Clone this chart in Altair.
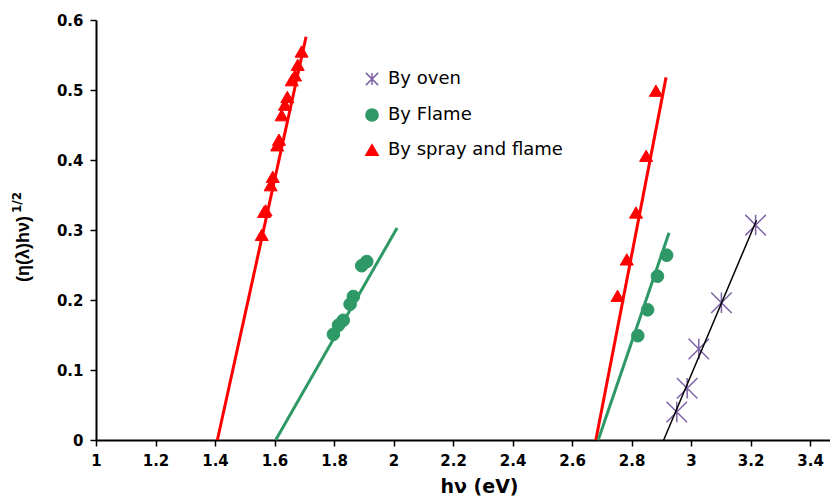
import altair as alt
import pandas as pd

# Series definitions
series_names = ["By oven", "By Flame", "By spray and flame"]
series_colors = ["#7F63A6", "#2E9966", "#FF0000"]
asterisk = "M-1,-1L1,1M-1,1L1,-1M0,-1L0,1"
series_shapes = [asterisk, "circle", "triangle-up"]

# Measured points
oven_x = [2.952, 2.987, 3.026, 3.102, 3.217]
oven_y = [0.040, 0.074, 0.130, 0.196, 0.307]

flame_x = [1.798, 1.815, 1.831, 1.854, 1.865, 1.893, 1.910,
           2.821, 2.854, 2.887, 2.918]
flame_y = [0.151, 0.164, 0.171, 0.194, 0.205, 0.249, 0.255,
           0.149, 0.186, 0.234, 0.264]

spray_x = [1.557, 1.565, 1.570, 1.587, 1.594, 1.609, 1.615, 1.624, 1.635,
           1.643, 1.658, 1.669, 1.678, 1.691,
           2.753, 2.784, 2.815, 2.849, 2.882]
spray_y = [0.293, 0.326, 0.328, 0.364, 0.376, 0.421, 0.429, 0.464, 0.479,
           0.490, 0.514, 0.521, 0.536, 0.555,
           0.206, 0.258, 0.325, 0.406, 0.499]

# Linear fits (start and end of each fitted segment)
fit_ids = ["spray_low", "spray_high", "flame_low", "flame_high", "oven"]
fit_colors = ["#FF0000", "#FF0000", "#2E9966", "#2E9966", "#000000"]
fit_widths = [3, 3, 3, 3, 1.5]
fit_x0 = [1.408, 2.680, 1.604, 2.688, 2.908]
fit_y0 = [0.0, 0.0, 0.0, 0.0, 0.0]
fit_x1 = [1.706, 2.916, 2.012, 2.926, 3.220]
fit_y1 = [0.576, 0.518, 0.303, 0.296, 0.314]

x_ticks = [1, 1.2, 1.4, 1.6, 1.8, 2, 2.2, 2.4, 2.6, 2.8, 3, 3.2, 3.4]
y_ticks = [0, 0.1, 0.2, 0.3, 0.4, 0.5, 0.6]

FONT = "DejaVu Sans"
TITLE_FONT = "Liberation Sans"

pts = pd.concat([
    pd.DataFrame({"x": oven_x, "y": oven_y, "series": series_names[0]}),
    pd.DataFrame({"x": flame_x, "y": flame_y, "series": series_names[1]}),
    pd.DataFrame({"x": spray_x, "y": spray_y, "series": series_names[2]}),
], ignore_index=True)

fit_rows = []
for fid, col, w, x0, y0, x1, y1 in zip(fit_ids, fit_colors, fit_widths,
                                        fit_x0, fit_y0, fit_x1, fit_y1):
    fit_rows.append({"fit": fid, "color": col, "w": w, "x": x0, "y": y0})
    fit_rows.append({"fit": fid, "color": col, "w": w, "x": x1, "y": y1})
fits = pd.DataFrame(fit_rows)

x_enc = alt.X(
    "x:Q",
    scale=alt.Scale(domain=[1, 3.467], nice=False, zero=False),
    axis=alt.Axis(values=x_ticks, format=".1~f", title="hν (eV)", grid=False,
                  tickSize=6, tickWidth=1.5, tickColor="black",
                  domainWidth=2, domainColor="black",
                  labelFont=FONT, labelFontSize=15, labelFontWeight="bold",
                  labelColor="black", labelPadding=7, labelFlush=False,
                  titleFont=FONT, titleFontSize=19, titleFontWeight="bold",
                  titleColor="black", titlePadding=9, titleX=383,
                  titleAlign="center"),
)
y_enc = alt.Y(
    "y:Q",
    scale=alt.Scale(domain=[0, 0.6], nice=False),
    axis=alt.Axis(values=y_ticks, format=".1~f", title=None, grid=False,
                  tickSize=6, tickWidth=1.5, tickColor="black",
                  domainWidth=2, domainColor="black",
                  labelFont=FONT, labelFontSize=15, labelFontWeight="bold",
                  labelColor="black", labelPadding=7, labelFlush=False),
)

fill_enc = alt.Fill("series:N",
                    scale=alt.Scale(domain=series_names, range=series_colors),
                    legend=alt.Legend(title=None))
stroke_enc = alt.Stroke("series:N",
                        scale=alt.Scale(domain=series_names, range=series_colors),
                        legend=alt.Legend(title=None))
shape_enc = alt.Shape("series:N",
                      scale=alt.Scale(domain=series_names, range=series_shapes),
                      legend=alt.Legend(title=None))

base_pts = alt.Chart(pts).encode(x=x_enc, y=y_enc, fill=fill_enc,
                                 stroke=stroke_enc, shape=shape_enc)

oven_layer = base_pts.transform_filter(
    alt.datum.series == series_names[0]
).mark_point(filled=True, size=420, strokeWidth=1.5, opacity=1)
flame_layer = base_pts.transform_filter(
    alt.datum.series == series_names[1]
).mark_point(filled=True, size=160, strokeWidth=1, opacity=1)
spray_layer = base_pts.transform_filter(
    alt.datum.series == series_names[2]
).mark_point(filled=True, size=170, strokeWidth=1, opacity=1)

fit_layer = alt.Chart(fits).mark_line().encode(
    x="x:Q", y="y:Q", detail="fit:N",
    color=alt.Color("color:N", scale=None),
    strokeWidth=alt.StrokeWidth("w:Q", scale=None),
)

# Rotated y-axis title with a superscript exponent
title_df = pd.DataFrame({"t": ["(η(λ)hν)"], "s": ["1/2"]})
ytitle_main = alt.Chart(title_df).mark_text(
    angle=270, align="left", baseline="middle", font=TITLE_FONT,
    fontSize=18, fontWeight="bold", color="black"
).encode(text="t:N", x=alt.value(-72), y=alt.value(262))
ytitle_sup = alt.Chart(title_df).mark_text(
    angle=270, align="left", baseline="middle", font=FONT,
    fontSize=12, fontWeight="bold", color="black"
).encode(text="s:N", x=alt.value(-79), y=alt.value(193))

chart = alt.layer(
    oven_layer, flame_layer, spray_layer, fit_layer, ytitle_main, ytitle_sup
).properties(
    width=734, height=420,
    padding={"left": 96, "top": 20, "right": 0, "bottom": 63},
    autosize="none",
).configure_view(stroke=None).configure_legend(
    orient="none", legendX=267, legendY=50,
    labelFont=FONT, labelFontSize=18, labelColor="black", labelLimit=400,
    symbolSize=150, symbolStrokeWidth=1.5, rowPadding=16,
    labelOffset=7, symbolOpacity=1,
)

chart.save("out.html", embed_options={"renderer": "svg", "actions": False})
